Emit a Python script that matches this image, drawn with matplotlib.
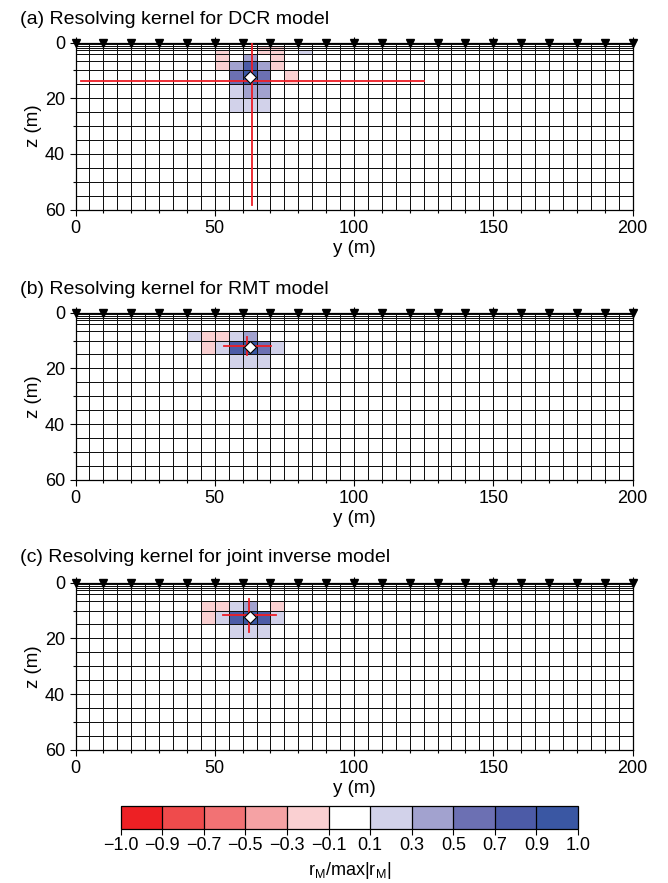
import numpy as np
import matplotlib
matplotlib.use("Agg")
import matplotlib.pyplot as plt
from matplotlib.colors import ListedColormap, BoundaryNorm
from matplotlib.colorbar import ColorbarBase

plt.rcParams['font.family'] = ['Liberation Sans', 'DejaVu Sans']
plt.rcParams['font.size'] = 13

# =========================================================
# model mesh and electrodes
# =========================================================
y_edges = np.arange(0, 205, 5)
z_edges = [0, 0.5, 1.1, 1.8, 2.7, 4.0, 6.5, 10, 15, 20, 25, 30, 35, 40, 45, 50, 55, 60]
electrodes = np.arange(0, 201, 10)

# kernel window: columns y = 40..85 m, layers starting at z = 1.1 m
win_col0 = 8
win_row0 = 2

# resolving kernels r_M / max|r_M| inside the window (rows = layers, cols = 5 m cells)
dcr_kernel = [
    [0, 0, 0,    0,    0,    -0.2, -0.2, 0,    0],
    [0, 0, 0,    0,    0,    -0.2, -0.2, 0,    0],
    [0, 0, -0.2, 0,    0,    -0.2, -0.2, 0,    0.2],
    [0, 0, -0.2, 0,    0.4,  0,    -0.2, 0,    0],
    [0, 0, -0.2, 0.4,  0.8,  0.4,  -0.2, 0,    0],
    [0, 0, 0,    0.6,  0.95, 0.6,  0,    -0.2, 0],
    [0, 0, 0,    0.2,  0.4,  0.4,  0,    0,    0],
    [0, 0, 0,    0.2,  0.2,  0.2,  0,    0,    0],
]
rmt_kernel = [
    [0,   0,    0,    0,   0,    0,   0,   0, 0],
    [0,   0,    0,    0,   0,    0,   0,   0, 0],
    [0,   0,    0,    0,   0,    0,   0,   0, 0],
    [0,   0,    0,    0,   0,    0,   0,   0, 0],
    [0.2, -0.2, -0.2, 0.2, 0.4,  0,   0,   0, 0],
    [0,   -0.2, 0.2,  0.8, 0.95, 0.6, 0.2, 0, 0],
    [0,   0,    0,    0.2, 0.2,  0.2, 0,   0, 0],
    [0,   0,    0,    0,   0,    0,   0,   0, 0],
]
joint_kernel = [
    [0, 0,    0,    0,   0,    0,   0,    0, 0],
    [0, 0,    0,    0,   0,    0,   0,    0, 0],
    [0, 0,    0,    0,   0,    0,   0,    0, 0],
    [0, 0,    0,    0,   0,    0,   0,    0, 0],
    [0, -0.2, -0.2, 0.2, 0.4,  0,   -0.2, 0, 0],
    [0, -0.2, 0.2,  0.8, 0.95, 0.8, 0.2,  0, 0],
    [0, 0,    0,    0.2, 0.2,  0.2, 0,    0, 0],
    [0, 0,    0,    0,   0,    0,   0,    0, 0],
]

# target cell and resolution cross (horizontal extent, depth; vertical position, extent)
target_y, target_z = 62.5, 12.5
dcr_cross = ([2, 125], 13.8, 63.5, [0, 58.5])
rmt_cross = ([53.4, 70.3], 12.0, 61.7, [8.9, 15.2])
joint_cross = ([52.8, 72.0], 11.6, 62.4, [6.0, 17.6])

titles = ["(a) Resolving kernel for DCR model",
          "(b) Resolving kernel for RMT model",
          "(c) Resolving kernel for joint inverse model"]

# colour classes
bounds = [-1.0, -0.9, -0.7, -0.5, -0.3, -0.1, 0.1, 0.3, 0.5, 0.7, 0.9, 1.0]
bound_labels = ["\u22121.0", "\u22120.9", "\u22120.7", "\u22120.5", "\u22120.3", "\u22120.1",
                "0.1", "0.3", "0.5", "0.7", "0.9", "1.0"]
class_colors = ['#ed2024', '#ef4b4c', '#f27274', '#f5a2a4', '#fad0d2', '#ffffff',
                '#d2d2ea', '#a2a2cf', '#6c70b3', '#4c5ba7', '#3a57a3']
cmap = ListedColormap(class_colors)
norm = BoundaryNorm(bounds, cmap.N)


def draw_panel(ax, kernel, cross):
    r = np.zeros((len(z_edges) - 1, len(y_edges) - 1))
    k = np.array(kernel)
    r[win_row0:win_row0 + k.shape[0], win_col0:win_col0 + k.shape[1]] = k
    ax.pcolormesh(y_edges, z_edges, r, cmap=cmap, norm=norm,
                  edgecolors='#111111', linewidth=0.7)

    hy, hz, vy, vz = cross
    ax.plot(hy, [hz, hz], color='#ee1c25', lw=1.3, zorder=4)
    ax.plot([vy, vy], vz, color='#ee1c25', lw=1.3, zorder=4)
    ax.plot(target_y, target_z, marker='D', ms=6.5, mfc='white', mec='k',
            mew=0.8, zorder=5)

    ax.plot(electrodes, np.zeros_like(electrodes), 'v', color='k', ms=5.5,
            clip_on=False, zorder=6)

    ax.set_xlim(0, 200)
    ax.set_ylim(60, 0)
    ax.set_xticks([0, 50, 100, 150, 200])
    ax.set_xticks(np.arange(0, 201, 10), minor=True)
    ax.set_yticks([0, 20, 40, 60])
    ax.set_yticks([10, 30, 50], minor=True)
    ax.tick_params(direction='out', length=4, width=0.8, top=True, labeltop=False)
    ax.tick_params(which='minor', direction='out', length=2.5, width=0.8, top=False)
    ax.set_xlabel("y (m)", labelpad=2, fontsize=13.5)
    ax.set_ylabel("z (m)", labelpad=2, fontsize=13.5)
    for s in ax.spines.values():
        s.set_linewidth(0.9)


fig = plt.figure(figsize=(6.68, 8.83), dpi=100)

ax_left, ax_w, ax_h = 75.5 / 668, 557 / 668, 167 / 883
panel_tops = [42.5, 312.7, 582.7]
title_y = [19, 289, 558]
kernels = [dcr_kernel, rmt_kernel, joint_kernel]
crosses = [dcr_cross, rmt_cross, joint_cross]

for top, ty, kern, cr, title in zip(panel_tops, title_y, kernels, crosses, titles):
    ax = fig.add_axes([ax_left, 1 - (top + 167) / 883, ax_w, ax_h])
    draw_panel(ax, kern, cr)
    fig.text(20.5 / 668, 1 - ty / 883, title, ha='left', va='center', fontsize=14)

cax = fig.add_axes([120.6 / 668, 1 - 829 / 883, 457.4 / 668, 23 / 883])
cb = ColorbarBase(cax, cmap=cmap, norm=norm, boundaries=bounds, ticks=bounds,
                  spacing='uniform', orientation='horizontal', drawedges=True)
cb.set_ticklabels(bound_labels)
cb.outline.set_linewidth(0.9)
cb.dividers.set_linewidth(0.9)
cax.tick_params(direction='out', length=4, width=0.8, pad=2)
cb.set_label(r"r$_\mathregular{M}$/max|r$_\mathregular{M}$|", labelpad=4)

fig.savefig("out.png", dpi=100)
